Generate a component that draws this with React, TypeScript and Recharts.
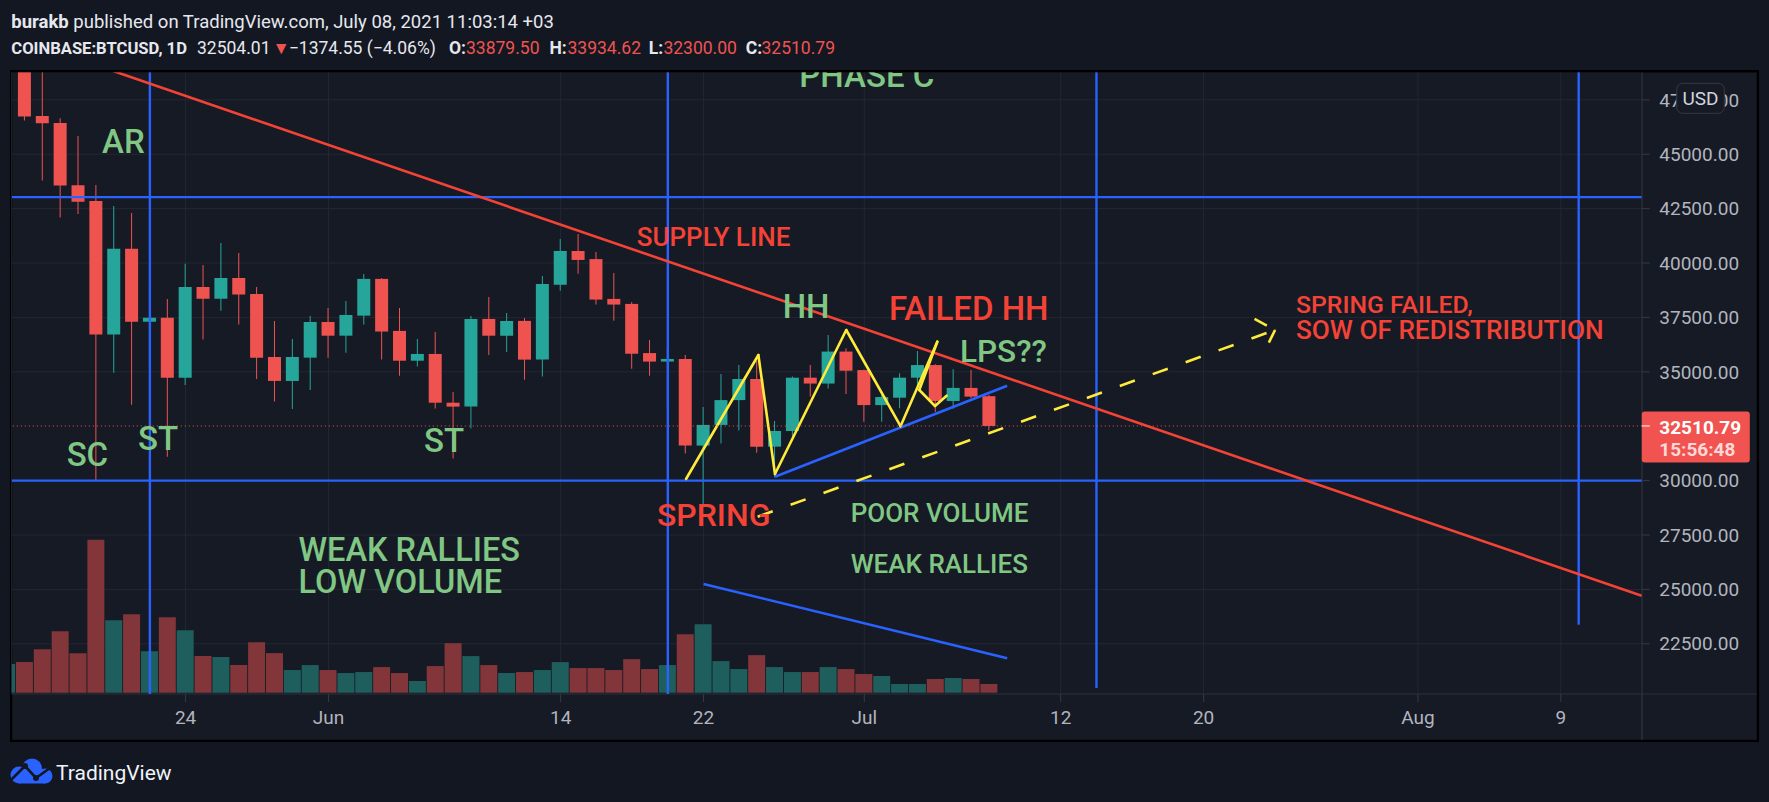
import React from 'react';
import { ComposedChart, Bar, Cell, XAxis, YAxis, CartesianGrid, ReferenceLine, ReferenceDot } from 'recharts';

// ---------- data ----------
const dates = [
  '2021-05-14','2021-05-15','2021-05-16','2021-05-17','2021-05-18','2021-05-19','2021-05-20','2021-05-21','2021-05-22','2021-05-23',
  '2021-05-24','2021-05-25','2021-05-26','2021-05-27','2021-05-28','2021-05-29','2021-05-30','2021-05-31',
  '2021-06-01','2021-06-02','2021-06-03','2021-06-04','2021-06-05','2021-06-06','2021-06-07','2021-06-08','2021-06-09','2021-06-10',
  '2021-06-11','2021-06-12','2021-06-13','2021-06-14','2021-06-15','2021-06-16','2021-06-17','2021-06-18','2021-06-19','2021-06-20',
  '2021-06-21','2021-06-22','2021-06-23','2021-06-24','2021-06-25','2021-06-26','2021-06-27','2021-06-28','2021-06-29','2021-06-30',
  '2021-07-01','2021-07-02','2021-07-03','2021-07-04','2021-07-05','2021-07-06','2021-07-07','2021-07-08',
];
const opens = [49600,49850,46760,46430,43570,42850,36710,40650,37300,37490,34730,38900,38360,39310,38580,35680,34580,35650,
  37290,36660,37580,39270,36880,35510,35820,33580,33400,37430,36660,37340,35560,39000,40550,40180,38350,38120,35860,35470,
  35590,31610,32560,33700,34670,31560,32280,34730,34460,35930,35080,33470,33810,34730,35310,33660,34260,33879.5];
const highs = [51500,50650,49800,46650,45840,43590,42620,42300,38910,38350,39970,39910,40920,40460,38900,37340,36510,37570,
  37930,38250,39500,39310,37930,36510,36830,34070,37570,38440,37700,37470,39400,41100,41330,40510,39540,38210,36460,36140,
  35770,33380,34900,35310,35500,32740,34780,35310,36690,36080,35090,33950,34930,35960,35350,35120,35080,33934.62];
const lows = [48800,46550,43790,42090,42250,30000,34960,33490,35240,31100,34390,36480,37810,37170,34670,33630,33290,34160,
  35650,35880,37170,35560,34820,35240,33310,31020,32390,35770,35910,34640,34780,38730,39510,38090,37350,35140,34820,33370,
  31240,28850,31700,32300,31280,30150,32020,33860,34230,33980,32710,32710,33320,34300,33150,33300,33780,32300];
const closes = [49900,46730,46420,43560,42820,36710,40650,37300,37490,34730,38900,38360,39310,38550,35650,34580,35680,37290,
  36660,37610,39270,36850,35510,35820,33580,33400,37430,36660,37340,35560,39040,40550,40140,38320,38090,35830,35470,35590,
  31610,32560,33700,34670,31560,32280,34730,34460,35930,35050,33470,33840,34730,35310,33660,34260,33860,32510.79];
const volumes = [23000,24600,35000,49400,31800,123000,58200,63000,33400,60600,50200,29400,28600,22200,40600,31800,18200,22200,
  18200,15800,16600,20600,15800,9400,21400,39800,29400,22200,15800,16600,18200,24600,19800,19800,18200,27000,19000,22200,
  47000,55000,25400,19000,30200,20600,16600,16600,20600,19000,15000,13400,7000,7000,11000,11800,11000,7000];

const priceTicks = [22500, 25000, 27500, 30000, 35000, 37500, 40000, 42500, 45000, 47500];
const timeTickDates = ['2021-05-24','2021-06-01','2021-06-14','2021-06-22','2021-07-01','2021-07-12','2021-07-20','2021-08-01','2021-08-09'];
const timeTickLabels = ['24','Jun','14','22','Jul','12','20','Aug','9'];

const lastPrice = 32510.79;
const lastPriceTimer = '15:56:48';

// drawings (x = day offset from 2021-05-24, y = price)
const horizontalLevels = [43030, 30000];
const verticalLines = [
  { day: -2, bottom: null as number | null },
  { day: 27, bottom: null as number | null },
  { day: 51, bottom: 20470 },
  { day: 78, bottom: 23380 },
];
const supplyLine = [[-10, 50500], [81.53, 24710]];
const supportLine = [[33, 30180], [46, 34360]];
const volumeTrend = [[29, 87400], [46, 27650]];
const zigzag = [[28.02, 30074], [32.07, 35772], [33, 30303], [36.99, 36921], [40.03, 32500], [42.09, 36384], [41.08, 34164], [41.96, 33429], [42.61, 33902]];
const dashedArrow = [[32.03, 28341], [61, 36921]];
const arrowWings = [[[59.85, 37432], [61, 36921]], [[61, 36921], [60.44, 35993]]];

const GREEN_TXT = '#81c784';
const RED_TXT = '#f44336';
const labels = [
  { text: 'PHASE C', d: 34.36, p: 48104, size: 33, color: GREEN_TXT },
  { text: 'AR', d: -4.68, p: 45056, size: 33, color: GREEN_TXT },
  { text: 'SC', d: -6.66, p: 30671, size: 33, color: GREEN_TXT },
  { text: 'ST', d: -2.67, p: 31406, size: 33, color: GREEN_TXT },
  { text: 'ST', d: 13.35, p: 31328, size: 33, color: GREEN_TXT },
  { text: 'SUPPLY LINE', d: 25.26, p: 40782, size: 26, color: RED_TXT },
  { text: 'HH', d: 33.43, p: 37459, size: 33, color: GREEN_TXT },
  { text: 'FAILED HH', d: 39.38, p: 37381, size: 33, color: RED_TXT },
  { text: 'LPS??', d: 43.36, p: 35465, size: 31.5, color: GREEN_TXT },
  { text: 'SPRING', d: 26.39, p: 27913, size: 32, color: RED_TXT },
  { text: 'POOR VOLUME', d: 37.24, p: 28083, size: 26, color: GREEN_TXT },
  { text: 'WEAK RALLIES', d: 37.24, p: 25767, size: 26, color: GREEN_TXT },
  { text: 'WEAK RALLIES', d: 6.32, p: 26305, size: 32.5, color: GREEN_TXT },
  { text: 'LOW VOLUME', d: 6.32, p: 24820, size: 32.5, color: GREEN_TXT },
  { text: 'SPRING FAILED,', d: 62.17, p: 37703, size: 24.8, color: RED_TXT },
  { text: 'SOW OF REDISTRIBUTION', d: 62.17, p: 36508, size: 26.2, color: RED_TXT },
];

// ---------- helpers ----------
const BASE = Date.UTC(2021, 4, 24);
const dayOf = (s: string) => {
  const [y, m, d] = s.split('-').map(Number);
  return (Date.UTC(y, m - 1, d) - BASE) / 86400000;
};
const data = dates.map((s, i) => ({
  x: dayOf(s),
  wick: [lows[i], highs[i]],
  body: [Math.min(opens[i], closes[i]), Math.max(opens[i], closes[i])],
  vol: volumes[i],
  up: closes[i] >= opens[i],
}));
const timeTicks = timeTickDates.map(dayOf);
const X_DOMAIN: [number, number] = [-9.737, 81.534];
const Y_DOMAIN: [number, number] = [20192, 48779];
const VOL_DOMAIN: [number, number] = [-1050, 498950];

const UP = '#26a69a';
const DOWN = '#ef5350';
const UP_VOL = '#1e5f5e';
const DOWN_VOL = '#82363a';
const BLUE = '#2962ff';
const YELLOW = '#ffeb3b';
const FONT = 'Roboto, "Noto Sans", sans-serif';
const HEAD = '#e6e8ee';

const PriceTick = (props: any) => {
  const { x, y, payload } = props;
  return (
    <text x={x} y={y} dy={6.7} fill="#b2b5be" fontSize={19} fontFamily={FONT} textAnchor="start">
      {Number(payload.value).toFixed(2)}
    </text>
  );
};
const TimeTick = (props: any) => {
  const { x, y, payload } = props;
  const idx = timeTicks.indexOf(payload.value);
  return (
    <text x={x} y={y} dy={20} fill="#b2b5be" fontSize={19} fontFamily={FONT} textAnchor="middle">
      {idx >= 0 ? timeTickLabels[idx] : ''}
    </text>
  );
};

export default function App() {
  return (
    <div style={{ position: 'absolute', left: 0, top: 0, width: 1769, height: 802, background: '#131722', overflow: 'hidden', fontFamily: FONT }}>
      {/* frame behind chart */}
      <svg width={1769} height={802} style={{ position: 'absolute', left: 0, top: 0 }}>
        <rect x={11.1} y={71.1} width={1746.8} height={669.8} fill="#161a25" stroke="#000" strokeWidth={2.3} />
        <line x1={12.3} x2={1756.8} y1={694} y2={694} stroke="#2a2e39" strokeWidth={1} />
        <line x1={1642} x2={1642} y1={72.3} y2={740} stroke="#363a45" strokeWidth={1} />
        {/* TradingView logo */}
        <g>
          <circle cx={19} cy={775} r={8.5} fill={BLUE} />
          <circle cx={32} cy={768.5} r={10} fill={BLUE} />
          <circle cx={45} cy={776} r={7.5} fill={BLUE} />
          <rect x={19} y={775} width={26} height={8.5} fill={BLUE} />
          <polyline points="11,780 25,766 36,778 50,768" fill="none" stroke="#131722" strokeWidth={2.6} />
          <circle cx={25} cy={766} r={3} fill="#131722" />
          <circle cx={36} cy={778} r={3} fill="#131722" />
          <text x={56} y={780} fontSize={21} fontFamily={FONT} fill="#f0f3fa">TradingView</text>
        </g>
      </svg>

      <div style={{ position: 'absolute', left: 0, top: 0 }}>
        <ComposedChart width={1769} height={802} data={data} margin={{ top: 72, right: 12, bottom: 62, left: 11.7 }}>
          <CartesianGrid xAxisId="b" yAxisId="p" stroke="#232733" strokeWidth={1} />
          <XAxis xAxisId="b" dataKey="x" type="number" domain={X_DOMAIN} allowDataOverflow ticks={timeTicks} interval={0}
            height={46} tickSize={8} tickMargin={2} axisLine={false} tickLine={{ stroke: '#363a45' }} tick={<TimeTick />} />
          <XAxis xAxisId="w" dataKey="x" type="number" domain={X_DOMAIN} allowDataOverflow hide />
          <XAxis xAxisId="v" dataKey="x" type="number" domain={X_DOMAIN} allowDataOverflow hide />
          <YAxis yAxisId="p" orientation="right" type="number" domain={Y_DOMAIN} allowDataOverflow ticks={priceTicks} interval={0}
            width={115.2} tickSize={8} tickMargin={9.5} axisLine={false} tickLine={{ stroke: '#363a45' }} tick={<PriceTick />} />
          <YAxis yAxisId="vol" type="number" domain={VOL_DOMAIN} allowDataOverflow hide />

          <Bar xAxisId="v" yAxisId="vol" dataKey="vol" barSize={17} isAnimationActive={false}>
            {data.map((e, i) => <Cell key={'v' + i} fill={e.up ? UP_VOL : DOWN_VOL} />)}
          </Bar>

          {horizontalLevels.map((y, i) => (
            <ReferenceLine key={'h' + i} xAxisId="b" yAxisId="p" y={y} stroke={BLUE} strokeWidth={2.4} ifOverflow="hidden" />
          ))}
          {verticalLines.map((v, i) => v.bottom === null ? (
            <ReferenceLine key={'vl' + i} xAxisId="b" yAxisId="p" x={v.day} stroke={BLUE} strokeWidth={2.4} ifOverflow="hidden" />
          ) : (
            <ReferenceLine key={'vl' + i} xAxisId="b" yAxisId="p" segment={[{ x: v.day, y: Y_DOMAIN[1] }, { x: v.day, y: v.bottom }]}
              stroke={BLUE} strokeWidth={2.4} ifOverflow="hidden" />
          ))}

          <Bar xAxisId="w" yAxisId="p" dataKey="wick" barSize={1} isAnimationActive={false}>
            {data.map((e, i) => <Cell key={'w' + i} fill={e.up ? UP : DOWN} />)}
          </Bar>
          <Bar xAxisId="b" yAxisId="p" dataKey="body" barSize={13} isAnimationActive={false}>
            {data.map((e, i) => <Cell key={'b' + i} fill={e.up ? UP : DOWN} />)}
          </Bar>

          <ReferenceLine xAxisId="b" yAxisId="p" segment={[{ x: supplyLine[0][0], y: supplyLine[0][1] }, { x: supplyLine[1][0], y: supplyLine[1][1] }]}
            stroke={RED_TXT} strokeWidth={2.6} ifOverflow="hidden" />
          <ReferenceLine xAxisId="b" yAxisId="p" segment={[{ x: supportLine[0][0], y: supportLine[0][1] }, { x: supportLine[1][0], y: supportLine[1][1] }]}
            stroke={BLUE} strokeWidth={2.6} ifOverflow="hidden" />
          <ReferenceLine xAxisId="v" yAxisId="vol" segment={[{ x: volumeTrend[0][0], y: volumeTrend[0][1] }, { x: volumeTrend[1][0], y: volumeTrend[1][1] }]}
            stroke={BLUE} strokeWidth={2.6} ifOverflow="hidden" />
          {zigzag.slice(1).map((pt, i) => (
            <ReferenceLine key={'z' + i} xAxisId="b" yAxisId="p" segment={[{ x: zigzag[i][0], y: zigzag[i][1] }, { x: pt[0], y: pt[1] }]}
              stroke={YELLOW} strokeWidth={2.6} strokeLinecap="round" ifOverflow="hidden" />
          ))}
          <ReferenceLine xAxisId="b" yAxisId="p" segment={[{ x: dashedArrow[0][0], y: dashedArrow[0][1] }, { x: dashedArrow[1][0], y: dashedArrow[1][1] }]}
            stroke={YELLOW} strokeWidth={2.6} strokeDasharray="16 19" ifOverflow="hidden" />
          {arrowWings.map((w, i) => (
            <ReferenceLine key={'aw' + i} xAxisId="b" yAxisId="p" segment={[{ x: w[0][0], y: w[0][1] }, { x: w[1][0], y: w[1][1] }]}
              stroke={YELLOW} strokeWidth={2.6} strokeDasharray="14 9" ifOverflow="hidden" />
          ))}

          <ReferenceLine xAxisId="b" yAxisId="p" y={lastPrice} stroke={DOWN} strokeWidth={1} strokeDasharray="1 3" ifOverflow="hidden" />

          {labels.map((l, i) => (
            <ReferenceDot key={'t' + i} xAxisId="b" yAxisId="p" x={l.d} y={l.p} r={1} ifOverflow="hidden"
              shape={(props: any) => (
                <text x={props.cx} y={props.cy} fill={l.color} fontSize={l.size} fontFamily={FONT} fontWeight={500}>{l.text}</text>
              )} />
          ))}

          <ReferenceDot xAxisId="b" yAxisId="p" x={X_DOMAIN[1]} y={lastPrice} r={1} ifOverflow="visible"
            shape={(props: any) => (
              <g>
                <rect x={props.cx} y={props.cy - 14.4} width={108} height={51} rx={3} fill="#f05350" />
                <line x1={props.cx} x2={props.cx + 8} y1={props.cy} y2={props.cy} stroke="#fff" strokeWidth={1} />
                <text x={props.cx + 17.5} y={props.cy + 8} fill="#ffffff" fontSize={19} fontWeight={700} fontFamily={FONT}>{lastPrice.toFixed(2)}</text>
                <text x={props.cx + 17.5} y={props.cy + 30.5} fill="#ffd9d8" fontSize={19} fontWeight={700} fontFamily={FONT}>{lastPriceTimer}</text>
              </g>
            )} />
        </ComposedChart>
      </div>

      {/* header area (covers anything drawn above the pane) + currency badge */}
      <svg width={1769} height={802} style={{ position: 'absolute', left: 0, top: 0, pointerEvents: 'none' }}>
        <rect x={0} y={0} width={1769} height={70} fill="#131722" />
        <rect x={10} y={70} width={1749} height={2.3} fill="#000" />
        <text y={27.5} fontSize={18.5} fontFamily={FONT} fill={HEAD}>
          <tspan x={11.3} fontWeight={700}>burakb</tspan>
          <tspan> published on TradingView.com, July 08, 2021 11:03:14 +03</tspan>
        </text>
        <g fontSize={17.5} fontFamily={FONT}>
          <text x={11.3} y={53.5} fill={HEAD} fontWeight={700} fontSize={16.6}>COINBASE:BTCUSD, 1D</text>
          <text x={197} y={53.5} fill={HEAD}>32504.01</text>
          <text x={272.5} y={53.5} fill={DOWN}>▼</text>
          <text x={288.8} y={53.5} fill={HEAD}>−1374.55 (−4.06%)</text>
          <text x={449} y={53.5} fill={HEAD} fontWeight={700}>O:</text>
          <text x={466} y={53.5} fill={DOWN}>33879.50</text>
          <text x={549.4} y={53.5} fill={HEAD} fontWeight={700}>H:</text>
          <text x={567.5} y={53.5} fill={DOWN}>33934.62</text>
          <text x={648.7} y={53.5} fill={HEAD} fontWeight={700}>L:</text>
          <text x={663.4} y={53.5} fill={DOWN}>32300.00</text>
          <text x={745.7} y={53.5} fill={HEAD} fontWeight={700}>C:</text>
          <text x={761.5} y={53.5} fill={DOWN}>32510.79</text>
        </g>
        <rect x={1676.7} y={83.3} width={47.6} height={30} rx={6} fill="#161a25" stroke="#363a45" strokeWidth={1} />
        <text x={1700.5} y={105} textAnchor="middle" fontSize={19} fontFamily={FONT} fill="#d1d4dc">USD</text>
      </svg>
    </div>
  );
}
